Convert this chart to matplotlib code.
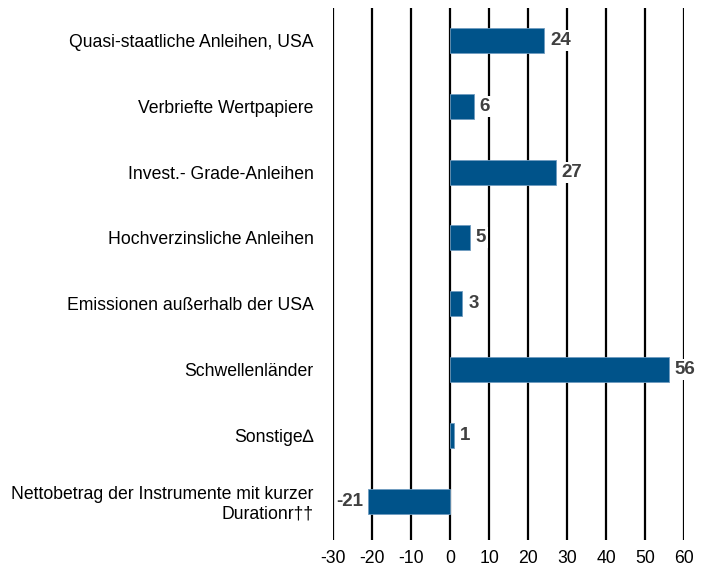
import matplotlib.pyplot as plt
from matplotlib import font_manager

categories = [
    'Quasi-staatliche Anleihen, USA',
    'Verbriefte Wertpapiere',
    'Invest.- Grade-Anleihen',
    'Hochverzinsliche Anleihen',
    'Emissionen außerhalb der USA',
    'Schwellenländer',
    'Sonstige∆',
    'Nettobetrag der Instrumente mit kurzer\nDurationr††',
]
values = [24, 6, 27, 5, 3, 56, 1, -21]
xticks = [-30, -20, -10, 0, 10, 20, 30, 40, 50, 60]

names = {f.name for f in font_manager.fontManager.ttflist}
main_font = 'Liberation Sans Narrow' if 'Liberation Sans Narrow' in names else 'Liberation Sans'
plt.rcParams['font.family'] = [main_font, 'DejaVu Sans']

fig = plt.figure(figsize=(7.12, 5.73), dpi=100)
ax = fig.add_axes([0.468, 0.0576, 0.493, 0.928])

pos = list(range(len(categories)))
ax.barh(pos, values, height=0.38, color='#00538A', edgecolor='#6f9cc0', linewidth=0.6, zorder=3)

for p, v in zip(pos, values):
    if v >= 0:
        ax.text(v + 1.6, p, str(v), ha='left', va='center', fontsize=13.5, fontweight='bold',
                color='#404040', zorder=4,
                bbox=dict(facecolor='white', edgecolor='none', pad=1.5))
    else:
        ax.text(v - 1.4, p, str(v), ha='right', va='center', fontsize=13.5, fontweight='bold',
                color='#404040', zorder=4,
                bbox=dict(facecolor='white', edgecolor='none', pad=0.8))

ax.set_xlim(-30, 60)
ax.set_ylim(7.59, -0.49)
ax.set_xticks(xticks)
ax.set_xticklabels([str(t) for t in xticks])
ax.set_yticks(pos)
ax.set_yticklabels(categories, ha='right', linespacing=1.2)
ax.tick_params(axis='y', length=0, pad=14, labelsize=12.7)
ax.tick_params(axis='x', length=0, pad=7, labelsize=12.7)
for t in ax.get_yticklabels():
    t.set_multialignment('right')

for x in xticks:
    ax.axvline(x, color='black', linewidth=1.6, zorder=1)

for s in ax.spines.values():
    s.set_visible(False)

fig.savefig('out.png', dpi=100)
